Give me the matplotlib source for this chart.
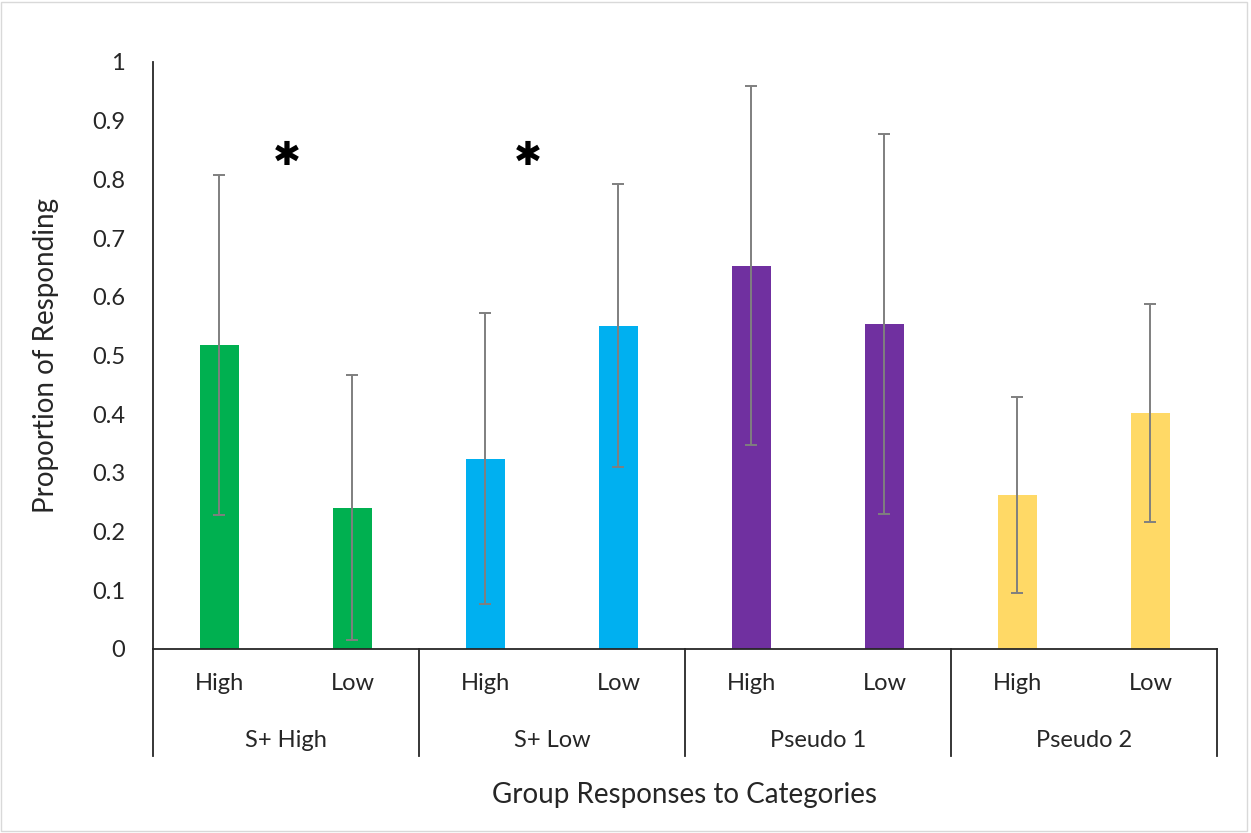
import matplotlib.pyplot as plt
from matplotlib.transforms import blended_transform_factory

plt.rcParams["font.family"] = ["Lato", "DejaVu Sans"]

groups = ["S+ High", "S+ Low", "Pseudo 1", "Pseudo 2"]
levels = ["High", "Low"]
means = [0.518, 0.241, 0.324, 0.551, 0.653, 0.554, 0.263, 0.402]
errors = [0.289, 0.225, 0.248, 0.241, 0.306, 0.324, 0.167, 0.186]
group_colors = ["#00B050", "#00B0F0", "#7030A0", "#FFD966"]
star_x = [1.0 - 0.49, 2.32]  # in bar-index units
star_height = 0.84

text_color = "#262626"

fig = plt.figure(figsize=(12.51, 8.33), dpi=100)
ax = fig.add_axes([0.1223, 0.2209, 0.8505, 0.7047])

x = list(range(len(means)))
colors = [c for c in group_colors for _ in levels]
ax.bar(x, means, width=0.3, color=colors, zorder=2)
ax.errorbar(x, means, yerr=errors, fmt="none", ecolor="#7f7f7f",
            elinewidth=1.4, capsize=4.3, capthick=1.4, zorder=3)

ax.set_xlim(-0.5, len(means) - 0.5)
ax.set_ylim(0, 1)
ax.set_yticks([i / 10 for i in range(11)])
ax.set_yticklabels(["0"] + [f"{i / 10:g}" for i in range(1, 10)] + ["1"])
ax.set_xticks(x)
ax.set_xticklabels(levels * len(groups))
ax.tick_params(axis="both", length=0, labelsize=17, colors=text_color)
ax.tick_params(axis="y", pad=20)
ax.tick_params(axis="x", pad=17)

for s in ["top", "right"]:
    ax.spines[s].set_visible(False)
for s in ["left", "bottom"]:
    ax.spines[s].set_color("#262626")
    ax.spines[s].set_linewidth(1.3)

# group separators and labels below the axis
trans = blended_transform_factory(ax.transData, ax.transAxes)
n = len(levels)
for g in range(len(groups) + 1):
    xb = g * n - 0.5
    ax.plot([xb, xb], [0, -0.183], transform=trans, color="#262626",
            lw=1.3, clip_on=False)
for g, name in enumerate(groups):
    ax.text(g * n + (n - 1) / 2, -0.156, name, transform=trans,
            ha="center", va="center", fontsize=17, color=text_color)

for sx in star_x:
    ax.text(sx, star_height, "\u2731", ha="center", va="center",
            fontsize=24, color="black", family="DejaVu Sans")

ax.set_ylabel("Proportion of Responding", fontsize=20, color=text_color,
              labelpad=24)
fig.text(0.5475, 1 - 795 / 833, "Group Responses to Categories",
         ha="center", va="center", fontsize=20, color=text_color)

fig.patches.append(plt.Rectangle((0.001, 0.002), 0.996, 0.996,
                                 transform=fig.transFigure, fill=False,
                                 edgecolor="#d9d9d9", lw=1))

fig.savefig("out.png", dpi=100)
